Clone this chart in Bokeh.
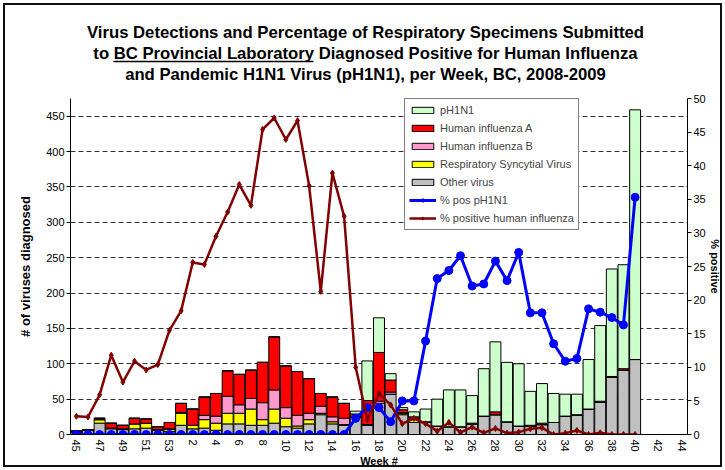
import math
from bokeh.plotting import figure
from bokeh.layouts import column
from bokeh.models import (ColumnDataSource, Range1d, LinearAxis, Legend, LegendItem,
                          Label, Arrow, FixedTicker)
from bokeh.embed import file_html
from bokeh.resources import INLINE

FONT = "Liberation Sans"

weeks = [45, 46, 47, 48, 49, 50, 51, 52, 53,
         1, 2, 3, 4, 5, 6, 7, 8, 9, 10, 11, 12, 13, 14, 15, 16, 17, 18, 19, 20,
         21, 22, 23, 24, 25, 26, 27, 28, 29, 30, 31, 32, 33, 34, 35, 36, 37, 38,
         39, 40, 41, 42, 43, 44]

other = [3, 6, 16, 8, 7, 8, 9, 6, 4,
         13, 8, 9, 6, 15, 15, 13, 13, 16, 11, 9, 15, 28, 15, 13, 25, 13, 44, 57, 28,
         17, 17, 12, 11, 11, 15, 26, 28, 18, 12, 12, 14, 17, 26, 27, 36, 46, 81,
         91, 106, 0, 0, 0, 0]
rsv = [0, 0, 5, 1, 0, 7, 7, 1, 3,
       17, 5, 12, 10, 15, 15, 23, 8, 20, 12, 3, 6, 2, 3, 1, 0, 0, 0, 0, 2,
       4, 0, 0, 0, 0, 0, 0, 0, 0, 0, 0, 0, 0, 0, 0, 0, 0, 0,
       0, 0, 0, 0, 0, 0]
flu_b = [0, 0, 0, 0, 1, 0, 0, 0, 1,
         1, 0, 6, 10, 24, 12, 15, 24, 27, 15, 15, 9, 10, 7, 9, 0, 1, 3, 3, 1,
         1, 0, 0, 0, 0, 0, 0, 0, 0, 0, 0, 0, 0, 0, 0, 0, 0, 0,
         0, 0, 0, 0, 0, 0]
flu_a = [2, 1, 2, 7, 5, 8, 6, 4, 9,
         13, 23, 26, 32, 36, 43, 40, 57, 75, 59, 62, 49, 18, 28, 21, 4, 34, 69, 17, 4,
         3, 1, 0, 0, 0, 1, 0, 4, 0, 0, 1, 2, 0, 0, 1, 0, 1, 1,
         2, 0, 0, 0, 0, 0]
ph1n1 = [0, 0, 0, 0, 0, 0, 0, 0, 0,
         0, 0, 0, 0, 0, 0, 0, 0, 0, 0, 0, 0, 0, 0, 0, 4, 56, 49, 9, 3,
         7, 18, 38, 52, 52, 39, 67, 99, 84, 88, 48, 56, 41, 31, 29, 70, 107, 152,
         147, 353, 0, 0, 0, 0]

nan = float("nan")
pct_ph1n1 = [0, 0, 0, 0, 0, 0, 0, 0, 0,
             0, 0, 0, 0, 0, 0, 0, 0, 0, 0, 0, 0, 0, 0, 0, 2.4, 4.0, 4.0, 1.9, 5.0,
             5.0, 13.9, 23.2, 24.4, 26.6, 22.1, 22.4, 25.8, 22.9, 27.1, 18.1, 18.1, 13.5, 10.9, 11.3, 18.7, 18.2, 17.4,
             16.3, 35.3, nan, nan, nan, nan]
pct_flu = [2.7, 2.6, 5.9, 11.8, 7.8, 10.9, 9.6, 10.4, 15.5,
           18.4, 25.6, 25.3, 29.5, 33.1, 37.2, 34.1, 45.4, 47.1, 43.9, 46.7, 37.0, 21.3, 38.9, 32.5, 10.0, 2.2, 6.1, 4.4, 1.6,
           2.4, 1.6, 0.5, 1.8, 0.3, 1.1, 0.25, 0.9, 0.2, 0.35, 0.85, 1.0, 0.0, 0.2, 0.6, 0.0, 0.25, 0.0,
           0.0, 0.0, nan, nan, nan, nan]

left_ticks = [0, 50, 100, 150, 200, 250, 300, 350, 400, 450]
right_ticks = [0, 5, 10, 15, 20, 25, 30, 35, 40, 45, 50]

title_lines = ["Virus Detections and Percentage of Respiratory Specimens Submitted",
               "to BC Provincial Laboratory Diagnosed Positive for Human Influenza",
               "and Pandemic H1N1 Virus (pH1N1), per Week, BC, 2008-2009"]

W, H = 725, 470
TH = 84
BL, BR, BT, BB = 70, 38, 98, 36   # frame borders in page pixels

# ---- title panel (pixel coordinates, frame aligned with the chart frame) ----
t = figure(width=W, height=TH, x_range=Range1d(BL, W - BR), y_range=Range1d(TH, 0),
           x_axis_type=None, y_axis_type=None, output_backend="svg", toolbar_location=None,
           min_border_left=BL, min_border_right=BR, min_border_top=0, min_border_bottom=0)
t.outline_line_color = None
t.background_fill_alpha = 0
t.border_fill_alpha = 0
t.xgrid.visible = False
t.ygrid.visible = False
for i, line in enumerate(title_lines):
    t.add_layout(Label(x=365, y=32 + 21 * i, text=line,
                       text_align="center", text_baseline="middle", text_font=FONT,
                       text_font_size="16.7px", text_font_style="bold", text_color="black"))
t.add_layout(Arrow(end=None, x_start=113, y_start=61, x_end=313, y_end=61,
                   line_color="black", line_width=1.5))

# ---- main chart ----
x = list(range(len(weeks)))
src = ColumnDataSource(dict(x=x, other=other, rsv=rsv, flu_b=flu_b, flu_a=flu_a,
                            ph1n1=ph1n1, pct_ph1n1=pct_ph1n1, pct_flu=pct_flu))

p = figure(width=W, height=H - TH, x_range=Range1d(-0.5, len(weeks) - 0.5),
           y_range=Range1d(0, 475), output_backend="svg", toolbar_location=None,
           min_border_left=BL, min_border_right=BR, min_border_top=BT - TH,
           min_border_bottom=BB)
p.outline_line_color = None
p.background_fill_color = "white"
p.border_fill_alpha = 0
p.extra_y_ranges = {"pct": Range1d(0, 50)}

colors = ["#C0C0C0", "#FFFF00", "#FF99CC", "#FF0000", "#CCFFCC"]
stack = ["other", "rsv", "flu_b", "flu_a", "ph1n1"]
bars = p.vbar_stack(stack, x="x", width=0.94, color=colors, line_color="black",
                    line_width=1, source=src)

l_h = p.line("x", "pct_ph1n1", y_range_name="pct", source=src, color="#0000FF", line_width=3)
s_h = p.scatter("x", "pct_ph1n1", y_range_name="pct", source=src, marker="circle",
                size=8, color="#0000FF")
l_f = p.line("x", "pct_flu", y_range_name="pct", source=src, color="#800000", line_width=2.5)
s_f = p.scatter("x", "pct_flu", y_range_name="pct", source=src, marker="diamond",
                size=6, color="#800000")

p.yaxis.ticker = FixedTicker(ticks=left_ticks)
p.yaxis.axis_label = "# of viruses diagnosed"
p.xaxis.ticker = FixedTicker(ticks=x[::2])
p.xaxis.major_label_overrides = {i: str(weeks[i]) for i in x}
p.xaxis.major_label_orientation = -math.pi / 2
p.xaxis.axis_label = "Week #"
ry = LinearAxis(y_range_name="pct", ticker=FixedTicker(ticks=right_ticks), axis_label="% positive")
p.add_layout(ry, "right")

for ax in [p.xaxis[0], p.yaxis[0], ry]:
    ax.axis_line_color = "black"
    ax.axis_line_width = 1
    ax.major_tick_line_color = "black"
    ax.minor_tick_line_color = None
    ax.major_tick_in = 0
    ax.major_tick_out = 4
    ax.major_label_text_font = FONT
    ax.major_label_text_font_size = "11px"
    ax.major_label_text_color = "black"
    ax.axis_label_text_font = FONT
    ax.axis_label_text_font_style = "bold"
    ax.axis_label_text_color = "black"
    ax.major_label_standoff = 2
    ax.axis_label_standoff = 2
p.yaxis.axis_label_text_font_size = "13px"
p.yaxis.axis_label_standoff = 10
ry.axis_label_text_font_size = "11px"
ry.axis_label_standoff = 0
p.xaxis.axis_label_text_font_size = "11px"
p.xaxis.major_tick_out = 0
p.xaxis.axis_label_standoff = 0
p.xaxis.major_label_standoff = 5

p.xgrid.visible = False
p.ygrid.grid_line_color = "black"
p.ygrid.grid_line_dash = "5 3"
p.ygrid.grid_line_alpha = 0.8

legend = Legend(items=[
    LegendItem(label="pH1N1", renderers=[bars[4]]),
    LegendItem(label="Human influenza A", renderers=[bars[3]]),
    LegendItem(label="Human influenza B", renderers=[bars[2]]),
    LegendItem(label="Respiratory Syncytial Virus", renderers=[bars[1]]),
    LegendItem(label="Other virus", renderers=[bars[0]]),
    LegendItem(label="% pos pH1N1", renderers=[l_h, s_h]),
    LegendItem(label="% positive human influenza", renderers=[l_f, s_f]),
], location=(334, 204))
legend.glyph_width = 27
legend.glyph_height = 8
legend.label_height = 14
legend.spacing = 4
legend.padding = 4
legend.margin = 0
legend.label_standoff = 4
legend.label_text_font = FONT
legend.label_text_font_size = "11px"
legend.border_line_color = "black"
legend.border_line_width = 1
legend.background_fill_alpha = 1
p.add_layout(legend)

layout = column(t, p, spacing=0,
                styles={"outline": "2px solid #111111", "outline-offset": "-5px"})
open("out.html", "w").write(file_html(layout, INLINE))
